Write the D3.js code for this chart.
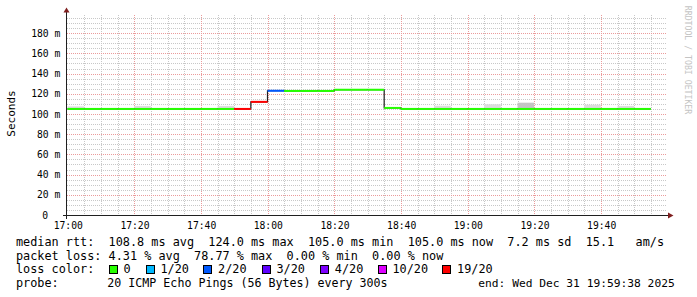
<!DOCTYPE html>
<html><head><meta charset="utf-8">
<script src="https://cdn.jsdelivr.net/npm/d3@7"></script>
<style>html,body{margin:0;padding:0;background:#fff;}svg{display:block;} text{white-space:pre;}</style>
</head><body>
<svg id="c" width="697" height="297"></svg>
<script>
// ---- data ----
const segStartMinutes = [0,5,10,15,20,25,30,35,40,45,50,55,60,65,70,75,80,85,90,95,100,105,110,115,120,125,130,135,140,145,150,155,160,165,170];
const medianMs = [105,105,105,105,105,105,105,105,105,105,105,112,123,122.8,122.8,122.8,124,124,124,106,105,105,105,105,105,105,105,105,105,105,105,105,105,105,105];
const lossBucket = [0,0,0,0,0,0,0,0,0,0,19,19,2,0,0,0,0,0,0,0,0,0,0,0,0,0,0,0,0,0,0,0,0,0,0];
const smokeMaxMs = [107.5,null,null,null,108,null,null,null,null,108,null,null,null,null,null,null,null,null,null,null,null,null,108.2,null,null,109.6,null,111.2,null,null,null,109.2,null,108,null];
const xTickLabels = ["17:00","17:20","17:40","18:00","18:20","18:40","19:00","19:20","19:40"];
const yTickValues = [0,20,40,60,80,100,120,140,160,180];
const yTickLabels = ["0","20 m","40 m","60 m","80 m","100 m","120 m","140 m","160 m","180 m"];
const lossKeys = [0,1,2,3,4,10,19];
const lossLabels = ["0","1/20","2/20","3/20","4/20","10/20","19/20"];
const lossColors = ["#26ff00","#00b8ff","#0059ff","#5e00ff","#7e00ff","#dd00ff","#ff0000"];
const legendRtt = "median rtt:  108.8 ms avg  124.0 ms max  105.0 ms min  105.0 ms now  7.2 ms sd  15.1   am/s";
const legendLoss = "packet loss: 4.31 % avg  78.77 % max  0.00 % min  0.00 % now";
const legendColorTitle = "loss color:";
const probeTitle = "probe:";
const probeText = "20 ICMP Echo Pings (56 Bytes) every 300s";
const endText = "end: Wed Dec 31 19:59:38 2025";

// ---- layout ----
const svg = d3.select("#c");
const mono = "'DejaVu Sans Mono', monospace";
const t0 = new Date(2025,11,31,17,0,0);
const tAt = m => new Date(t0.getTime() + m*60000);
const x = d3.scaleTime().domain([t0, tAt(180)]).range([67.5, 667.5]);
const y = d3.scaleLinear().domain([0,198]).range([215,15]);
const crisp = v => Math.round(v) + 0.5;
const lossColor = d3.scaleOrdinal().domain(lossKeys).range(lossColors);

// grid
const g = svg.append("g");
const minorX = d3.range(5, 180, 5).filter(m => m % 20 !== 0);
const majorX = d3.range(20, 180, 20);
const minorY = d3.range(5, 198, 5).filter(v => v % 20 !== 0);
const majorY = d3.range(20, 198, 20);
g.selectAll(".mx").data(minorX).join("line")
  .attr("x1", m => crisp(x(tAt(m)))).attr("x2", m => crisp(x(tAt(m))))
  .attr("y1", 15).attr("y2", 215)
  .attr("stroke", "#c8c8c8").attr("stroke-dasharray", "1,1");
g.selectAll(".my").data(minorY).join("line")
  .attr("x1", 67).attr("x2", 667)
  .attr("y1", v => crisp(y(v))).attr("y2", v => crisp(y(v)))
  .attr("stroke", "#c8c8c8").attr("stroke-dasharray", "1,1");
g.selectAll(".Mx").data(majorX).join("line")
  .attr("x1", m => crisp(x(tAt(m)))).attr("x2", m => crisp(x(tAt(m))))
  .attr("y1", 15).attr("y2", 215)
  .attr("stroke", "#eb9b9b").attr("stroke-dasharray", "1,1");
g.selectAll(".My").data(majorY).join("line")
  .attr("x1", 67).attr("x2", 667)
  .attr("y1", v => crisp(y(v))).attr("y2", v => crisp(y(v)))
  .attr("stroke", "#eb9b9b").attr("stroke-dasharray", "1,1");

// smoke
const segs = segStartMinutes.map((m,i) => ({m, v: medianMs[i], loss: lossBucket[i], smoke: smokeMaxMs[i]}));
svg.append("g").selectAll("rect").data(segs.filter(d => d.smoke != null)).join("rect")
  .attr("x", d => x(tAt(d.m))).attr("width", d => x(tAt(d.m+5)) - x(tAt(d.m)))
  .attr("y", d => y(d.smoke)).attr("height", d => y(d.v) - y(d.smoke))
  .attr("fill", d => d.smoke - d.v > 5 ? "#c4c4c4" : "#dcdcdc");

// black step connector
const stepPts = [];
segs.forEach(d => { stepPts.push([x(tAt(d.m)), y(d.v)]); stepPts.push([x(tAt(d.m+5)), y(d.v)]); });
svg.append("path").attr("d", d3.line()(stepPts)).attr("fill","none")
  .attr("stroke","#202020").attr("stroke-width",1.2);
// coloured segments
svg.append("g").selectAll("line").data(segs).join("line")
  .attr("x1", d => x(tAt(d.m))).attr("x2", d => x(tAt(d.m+5)))
  .attr("y1", d => y(d.v)).attr("y2", d => y(d.v))
  .attr("stroke", d => lossColor(d.loss)).attr("stroke-width", 2);

// axes
svg.append("line").attr("x1",63).attr("x2",670).attr("y1",215.5).attr("y2",215.5).attr("stroke","#1f1f1f");
svg.append("line").attr("x1",66.5).attr("x2",66.5).attr("y1",219).attr("y2",11).attr("stroke","#1f1f1f");
svg.append("path").attr("d","M668,212.5L673.5,215.5L668,218.5Z").attr("fill","#7f1f1f");
svg.append("path").attr("d","M63.5,12.5L66.5,7.5L69.5,12.5Z").attr("fill","#7f1f1f");

// tick labels
svg.append("g").selectAll("text").data(xTickLabels).join("text")
  .attr("x", (d,i) => x(tAt(i*20)) + 0.8).attr("y", 228.5)
  .attr("text-anchor","middle").attr("font-family",mono).attr("font-size","9.7px").attr("fill","#000")
  .text(d => d);
svg.append("g").selectAll("text").data(yTickValues).join("text")
  .attr("x", d => d === 0 ? 48 : 60.3).attr("y", d => y(d) + 3.6)
  .attr("text-anchor","end").attr("font-family",mono).attr("font-size","9.7px").attr("fill","#000")
  .text((d,i) => yTickLabels[i]);

// axis title
svg.append("text").attr("transform","translate(14.5,113.5) rotate(-90)")
  .attr("text-anchor","middle").attr("font-family",mono).attr("font-size","11px").attr("fill","#000")
  .text("Seconds");
// watermark
svg.append("text").attr("transform","translate(685,60) rotate(90)")
  .attr("text-anchor","middle").attr("font-family",mono).attr("font-size","8.2px").attr("fill","#c4c4c4")
  .text("RRDTOOL / TOBI OETIKER");

// legend
const leg = svg.append("g").attr("font-family",mono).attr("font-size","11.83px").attr("fill","#000");
leg.append("text").attr("x",16).attr("y",246).text(legendRtt);
leg.append("text").attr("x",16).attr("y",259.5).text(legendLoss);
leg.append("text").attr("x",16).attr("y",273).text(legendColorTitle);
const boxX = [108.7,145.7,203.3,261.7,320,377.7,442.3];
leg.selectAll("rect").data(lossKeys).join("rect")
  .attr("x",(d,i)=>Math.round(boxX[i])+0.5).attr("y",265.5).attr("width",8).attr("height",8)
  .attr("fill",d=>lossColor(d)).attr("stroke","#000");
leg.selectAll(".lc").data(lossLabels).join("text").attr("x",(d,i)=>boxX[i]+14.8).attr("y",273).text(d=>d);
leg.append("text").attr("x",16).attr("y",286.5).text(probeTitle);
leg.append("text").attr("x",107.3).attr("y",286.5).attr("font-size","11.65px").text(probeText);
leg.append("text").attr("x",478.3).attr("y",286.5).attr("font-size","11.25px").text(endText);
</script>
</body></html>
